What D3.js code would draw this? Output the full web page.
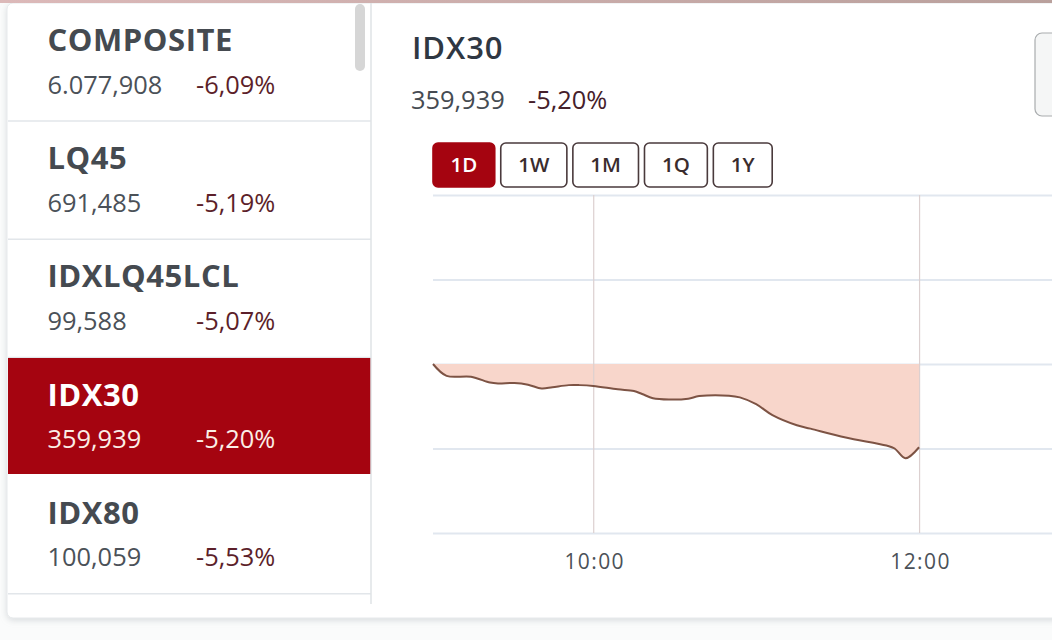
<!DOCTYPE html>
<html><head><meta charset="utf-8">
<script src="https://cdn.jsdelivr.net/npm/d3@7"></script>
<style>html,body{margin:0;padding:0;background:#fafbfb;overflow:hidden}svg{display:block}text{font-family:"Open Sans",sans-serif}</style>
</head><body><svg id="c" width="1052" height="640"></svg>
<script>
// --- data ---
const indexNames = ["COMPOSITE","LQ45","IDXLQ45LCL","IDX30","IDX80"];
const indexValues = ["6.077,908","691,485","99,588","359,939","100,059"];
const indexChanges = ["-6,09%","-5,19%","-5,07%","-5,20%","-5,53%"];
const selectedIndex = "IDX30";
const ranges = ["1D","1W","1M","1Q","1Y"];
const activeRange = "1D";
const times = ["09:01","09:06","09:15","09:22","09:25","09:31","09:36","09:41","09:45","09:51","09:55","10:00","10:09","10:15","10:18","10:22","10:28","10:35","10:39","10:50","10:54","11:00","11:06","11:15","11:20","11:33","11:48","11:51","11:55","12:00"];
const prices = [380.0,377.2,377.0,375.6,375.4,375.5,375.1,374.2,374.5,375.0,375.0,374.8,374.0,373.6,372.9,371.9,371.6,371.8,372.4,372.5,372.1,370.5,367.9,365.5,364.7,362.6,360.7,360.0,357.7,360.3];
const previousClose = 380;
const yTicks = [340,360,380,400,420];
const xTicks = ["10:00","12:00"];

// --- layout ---
const svg = d3.select("#c");
const parse = d3.timeParse("%H:%M"), fmt = d3.timeFormat("%H:%M");
const W = 1052, H = 640;
const defs = svg.append("defs");
defs.append("filter").attr("id","sh").attr("x","-2%").attr("y","-2%").attr("width","104%").attr("height","104%")
  .append("feDropShadow").attr("dx",0).attr("dy",2).attr("stdDeviation",3).attr("flood-color","#9aa3a8").attr("flood-opacity",0.35);
const tg = defs.append("linearGradient").attr("id","top");
tg.append("stop").attr("offset","0").attr("stop-color","#dcb9b9");
tg.append("stop").attr("offset","1").attr("stop-color","#b9a09c");
svg.append("rect").attr("x",7).attr("y",3).attr("width",W+20).attr("height",615).attr("rx",6)
  .attr("fill","#fff").attr("stroke","#e6e9eb").attr("stroke-width",1).attr("filter","url(#sh)");
svg.append("rect").attr("width",W).attr("height",3).attr("fill","url(#top)");

// sidebar
const rowTop = 3, rowH = 118.2, sideX = 8, sideR = 371;
const row = svg.selectAll("g.row").data(indexNames).join("g").attr("class","row")
  .attr("transform",(d,i)=>`translate(0,${rowTop + i*rowH})`);
row.filter(d=>d===selectedIndex).append("rect").attr("x",sideX).attr("y",0.4).attr("width",sideR-sideX).attr("height",116).attr("fill","#a50410");
row.filter(d=>d!==selectedIndex).append("line").attr("x1",sideX).attr("x2",sideR).attr("y1",118).attr("y2",118).attr("stroke","#e2e6ea").attr("stroke-width",1.5);
const on = d => d===selectedIndex;
row.append("text").attr("x",47.5).attr("y",48).text(d=>d)
  .attr("font-size",31).attr("font-weight",700).attr("letter-spacing",0.55).attr("fill",d=>on(d)?"#fff":"#454a50");
row.append("text").attr("x",47.5).attr("y",90.5).text((d,i)=>indexValues[i])
  .attr("font-size",25.4).attr("font-weight",d=>on(d)?500:400).attr("fill",d=>on(d)?"#fbeee6":"#4b5158");
row.append("text").attr("x",196).attr("y",90.5).text((d,i)=>indexChanges[i])
  .attr("font-size",25.4).attr("font-weight",d=>on(d)?500:400).attr("fill",d=>on(d)?"#fbeee6":"#5c1f2a");
svg.append("line").attr("x1",sideR).attr("x2",sideR).attr("y1",3).attr("y2",604).attr("stroke","#dfe3e6").attr("stroke-width",1.5);
svg.append("rect").attr("x",355).attr("y",4).attr("width",10).attr("height",67).attr("rx",5).attr("fill","#d6d6d6");

// header
svg.append("text").attr("x",412).attr("y",59).text(selectedIndex).attr("font-size",31).attr("font-weight",600).attr("letter-spacing",0.9).attr("fill","#2f3742");
const si = indexNames.indexOf(selectedIndex);
svg.append("text").attr("x",411).attr("y",109).text(indexValues[si]).attr("font-size",25.4).attr("fill","#454b52");
svg.append("text").attr("x",528).attr("y",109).text(indexChanges[si]).attr("font-size",25.4).attr("fill","#45202a");
svg.append("rect").attr("x",1035).attr("y",33).attr("width",40).attr("height",83).attr("rx",7).attr("fill","#f5f6f6").attr("stroke","#a9acae").attr("stroke-width",1.2);

// range buttons (width follows the label)
let bx = 433;
ranges.forEach(r=>{
  const g = svg.append("g");
  const rect = g.append("rect");
  const t = g.append("text").text(r).attr("font-size",20.5).attr("font-weight",600).attr("text-anchor","middle").attr("y",172)
    .attr("fill",r===activeRange?"#fff":"#3a2c2e");
  const w = t.node().getComputedTextLength() + 35;
  t.attr("x",bx+w/2);
  rect.attr("x",bx).attr("y",143).attr("width",w).attr("height",44).attr("rx",5)
    .attr("fill",r===activeRange?"#a50410":"#fff")
    .attr("stroke",r===activeRange?"#a50410":"#4a3a3c").attr("stroke-width",1.6);
  bx += w + 6;
});

// chart
const x = d3.scaleTime().domain([parse("09:01"),parse("13:00")]).range([433,1082]);
const y = d3.scaleLinear().domain([340,420]).range([533,195]);
const pts = times.map((t,i)=>({t:parse(t),v:prices[i]}));

svg.append("g").attr("transform","translate(433,0)")
  .call(d3.axisLeft(y).tickValues(yTicks).tickSize(-649).tickFormat(""))
  .call(g=>g.select(".domain").remove())
  .call(g=>g.selectAll("line").attr("stroke","#e1e7ef").attr("stroke-width",1.8));

const curve = d3.curveCatmullRom.alpha(0.5);
svg.append("path").datum(pts).attr("fill","#f8d6cb")
  .attr("d",d3.area().curve(curve).x(d=>x(d.t)).y0(y(previousClose)).y1(d=>y(d.v)));

const ax = svg.append("g").attr("transform",`translate(0,${y(340)})`)
  .call(d3.axisBottom(x).tickValues(xTicks.map(parse)).tickFormat(fmt).tickSize(0).tickPadding(21));
ax.select(".domain").remove();
ax.selectAll("text").attr("font-size",21).attr("fill","#4b5158").attr("font-family","'Open Sans',sans-serif").attr("letter-spacing",1.4).attr("dx",1);
ax.selectAll(".tick").append("line").attr("y1",0).attr("y2",y(420)-y(340)).attr("stroke","#dcd0d0").attr("stroke-width",1.2);

svg.append("path").datum(pts).attr("fill","none").attr("stroke","#7d5344").attr("stroke-width",2).attr("stroke-linejoin","round")
  .attr("d",d3.line().curve(curve).x(d=>x(d.t)).y(d=>y(d.v)));
</script></body></html>
